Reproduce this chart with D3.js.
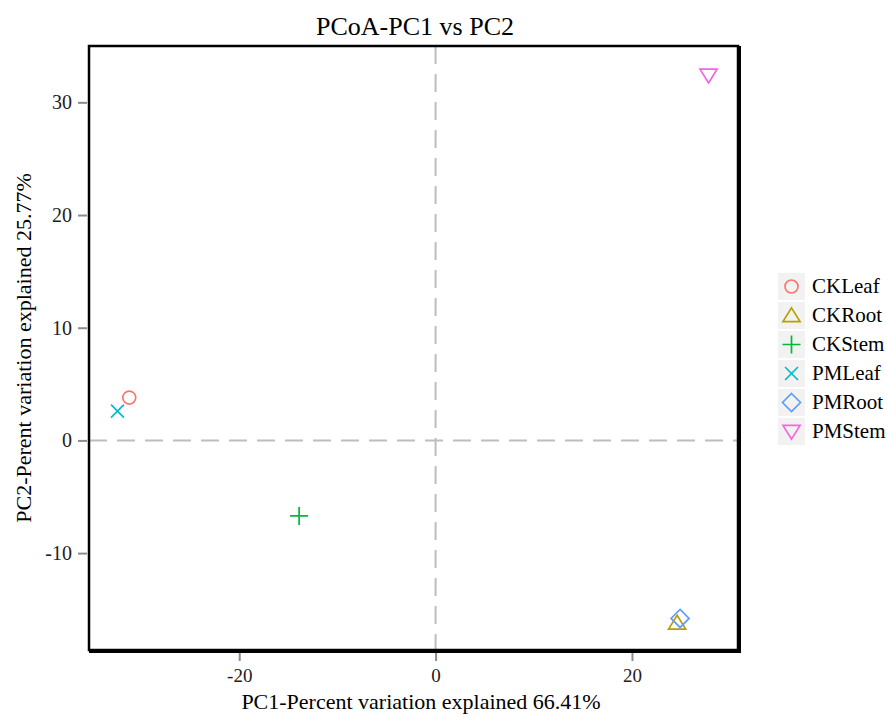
<!DOCTYPE html>
<html>
<head>
<meta charset="utf-8">
<script src="https://cdn.jsdelivr.net/npm/d3@7"></script>
<style>
  body { margin: 0; background: #fff; }
  text { font-family: "Liberation Serif", "Times New Roman", serif; }
</style>
</head>
<body>
<svg id="chart" width="887" height="717"></svg>
<script>
// sample groups and PCoA coordinates
const groups = ["CKLeaf", "CKRoot", "CKStem", "PMLeaf", "PMRoot", "PMStem"];
const pc1 = [-31.2, 24.6, -13.9, -32.4, 24.9, 27.8];
const pc2 = [3.8, -16.2, -6.7, 2.6, -15.8, 32.4];
const colors = ["#F8766D", "#B79F00", "#00BA38", "#00BFC4", "#619CFF", "#F564E3"];
const xTicks = [-20, 0, 20];
const yTicks = [-10, 0, 10, 20, 30];

const svg = d3.select("#chart");
const margin = { left: 89, right: 738, top: 46, bottom: 650 };

const x = d3.scaleLinear().domain([-35.3, 30.8]).range([margin.left, margin.right]);
const y = d3.scaleLinear().domain([-18.6, 35.0]).range([margin.bottom, margin.top]);

// title
svg.append("text")
	.attr("x", 415).attr("y", 35)
	.attr("text-anchor", "middle")
	.attr("font-size", 26)
	.text("PCoA-PC1 vs PC2");

// zero lines
svg.append("line")
	.attr("x1", x(0)).attr("x2", x(0))
	.attr("y1", margin.top).attr("y2", margin.bottom)
	.attr("stroke", "#bdbdbd").attr("stroke-width", 2)
	.attr("stroke-dasharray", "18,10");
svg.append("line")
	.attr("x1", margin.left).attr("x2", margin.right)
	.attr("y1", y(0)).attr("y2", y(0))
	.attr("stroke", "#bdbdbd").attr("stroke-width", 2)
	.attr("stroke-dasharray", "18,10");

// axes
const xAxis = svg.append("g")
	.attr("transform", `translate(0,${margin.bottom + 2})`)
	.call(d3.axisBottom(x).tickValues(xTicks).tickFormat(d => String(d)).tickSize(9).tickPadding(8));
const yAxis = svg.append("g")
	.attr("transform", `translate(${margin.left - 2},0)`)
	.call(d3.axisLeft(y).tickValues(yTicks).tickFormat(d => String(d)).tickSize(9).tickPadding(6));
for (const ax of [xAxis, yAxis]) {
	ax.select(".domain").remove();
	ax.selectAll(".tick line").attr("stroke", "#8c8c8c").attr("stroke-width", 2);
	ax.selectAll(".tick text")
		.attr("font-family", "Liberation Serif, serif")
		.attr("font-size", ax === xAxis ? 19 : 20)
		.attr("fill", "#222");
}

// panel border with heavier right/bottom edges
svg.append("rect")
	.attr("x", margin.left).attr("y", margin.top)
	.attr("width", margin.right - margin.left)
	.attr("height", margin.bottom - margin.top)
	.attr("fill", "none").attr("stroke", "#000").attr("stroke-width", 2.5);
svg.append("path")
	.attr("d", `M${margin.right + 1.5},${margin.top} V${margin.bottom + 1.5} H${margin.left}`)
	.attr("fill", "none").attr("stroke", "#000").attr("stroke-width", 3);

// axis titles
svg.append("text")
	.attr("x", 421).attr("y", 709)
	.attr("text-anchor", "middle")
	.attr("font-size", 22)
	.text("PC1-Percent variation explained 66.41%");
svg.append("text")
	.attr("transform", `translate(31,${(margin.top + margin.bottom) / 2}) rotate(-90)`)
	.attr("text-anchor", "middle")
	.attr("font-size", 22)
	.text("PC2-Perent variation explained 25.77%");

// marker shapes
function shape(i, s) {
	const p = d3.path();
	if (i === 0) { p.arc(0, 0, s * 0.72, 0, 2 * Math.PI); }
	else if (i === 1) { p.moveTo(0, -s * 0.85); p.lineTo(s * 0.95, s * 0.68); p.lineTo(-s * 0.95, s * 0.68); p.closePath(); }
	else if (i === 2) { p.moveTo(-s, 0); p.lineTo(s, 0); p.moveTo(0, -s); p.lineTo(0, s); }
	else if (i === 3) { const d = s * 0.72; p.moveTo(-d, -d); p.lineTo(d, d); p.moveTo(d, -d); p.lineTo(-d, d); }
	else if (i === 4) { p.moveTo(0, -s); p.lineTo(s, 0); p.lineTo(0, s); p.lineTo(-s, 0); p.closePath(); }
	else { p.moveTo(0, s * 0.85); p.lineTo(s * 0.95, -s * 0.68); p.lineTo(-s * 0.95, -s * 0.68); p.closePath(); }
	return p.toString();
}

const points = groups.map((g, i) => ({ g, i, x: pc1[i], y: pc2[i] }));
svg.append("g").selectAll("path")
	.data(points)
	.join("path")
	.attr("transform", d => `translate(${x(d.x)},${y(d.y)})`)
	.attr("d", d => shape(d.i, 9))
	.attr("fill", "none")
	.attr("stroke", d => colors[d.i])
	.attr("stroke-width", 1.7);

// legend
const legend = svg.append("g").attr("transform", "translate(778,273)");
const rows = legend.selectAll("g").data(points).join("g")
	.attr("transform", (d, k) => `translate(0,${k * 29})`);
rows.append("rect")
	.attr("width", 27).attr("height", 27)
	.attr("fill", "#f2f2f2");
rows.append("path")
	.attr("transform", "translate(13.5,13.5)")
	.attr("d", d => shape(d.i, 9))
	.attr("fill", "none")
	.attr("stroke", d => colors[d.i])
	.attr("stroke-width", 1.7);
rows.append("text")
	.attr("x", 34).attr("y", 20)
	.attr("font-size", 21)
	.text(d => d.g);
</script>
</body>
</html>
